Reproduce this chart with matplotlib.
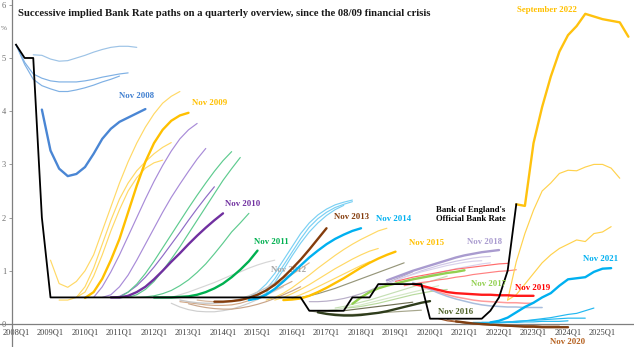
import matplotlib
matplotlib.use("Agg")
import matplotlib.pyplot as plt
import numpy as np

# ---------------------------------------------------------------- data
quarters = [f"{y}Q{q}" for y in range(2008, 2027) for q in range(1, 5)]
tick_labels = [f"{y}Q1" for y in range(2008, 2026)]

# Bank of England official Bank Rate, quarterly from 2008Q1
bank_rate = [5.25, 5.0, 5.0, 2.0,
             0.5, 0.5, 0.5, 0.5, 0.5, 0.5, 0.5, 0.5, 0.5, 0.5,
             0.5, 0.5, 0.5, 0.5, 0.5, 0.5, 0.5, 0.5, 0.5, 0.5,
             0.5, 0.5, 0.5, 0.5, 0.5, 0.5, 0.5, 0.5, 0.5, 0.5,
             0.25, 0.25, 0.25, 0.25, 0.25,
             0.5, 0.5, 0.5,
             0.75, 0.75, 0.75, 0.75, 0.75, 0.75,
             0.1, 0.1, 0.1, 0.1, 0.1, 0.1, 0.1,
             0.25, 0.5, 1.0, 2.25]

# Implied paths: (first quarter, quarterly values)
paths_2008 = [("2008Q1", [5.25, 4.92, 4.70, 4.62, 4.57, 4.55, 4.55, 4.55, 4.57, 4.60, 4.64, 4.67, 4.70, 4.72]),
              ("2008Q1", [5.25, 4.88, 4.60, 4.48, 4.42, 4.37, 4.37, 4.40, 4.44, 4.49, 4.55, 4.60, 4.66]),
              ("2008Q3", [5.06, 5.05, 4.98, 4.94, 4.95, 5.00, 5.05, 5.11, 5.16, 5.20, 5.22, 5.22, 5.20])]
nov_2008 = ("2008Q4", [4.03, 3.26, 2.92, 2.78, 2.82, 2.95, 3.20, 3.48, 3.67, 3.80, 3.88, 3.96, 4.04])

paths_2009 = [("2009Q1", [1.2, 0.76, 0.69, 0.8, 1.0, 1.3, 1.75, 2.2, 2.65, 3.05, 3.4, 3.7, 3.95, 4.15, 4.28, 4.37]),
              ("2009Q2", [0.45, 0.45, 0.5, 0.7, 1.05, 1.5, 1.95, 2.35, 2.65, 2.88, 3.05, 3.2, 3.32, 3.41]),
              ("2009Q4", [0.5, 0.6, 0.9, 1.3, 1.75, 2.15, 2.5, 2.75, 2.93, 3.03, 3.08])]
nov_2009 = ("2010Q1", [0.49, 0.6, 0.85, 1.2, 1.6, 2.1, 2.6, 3.05, 3.4, 3.65, 3.82, 3.92, 3.97])

paths_2010 = [("2010Q2", [0.5, 0.7, 0.98, 1.3, 1.65, 2.0, 2.35, 2.68, 2.98, 3.25, 3.48, 3.65, 3.77]),
              ("2010Q3", [0.5, 0.55, 0.7, 0.92, 1.2, 1.5, 1.8, 2.1, 2.38, 2.63, 2.87, 3.1, 3.3]),
              ("2010Q4", [0.5, 0.52, 0.6, 0.72, 0.88, 1.07, 1.28, 1.5, 1.72, 1.95, 2.17, 2.38, 2.58])]
nov_2010 = ("2010Q4", [0.5, 0.5, 0.53, 0.6, 0.7, 0.84, 1.0, 1.17, 1.33, 1.5, 1.66, 1.81, 1.95, 2.08])

paths_2011 = [("2011Q1", [0.5, 0.6, 0.75, 0.95, 1.18, 1.43, 1.68, 1.93, 2.18, 2.42, 2.65, 2.87, 3.07, 3.24]),
              ("2011Q2", [0.5, 0.55, 0.65, 0.8, 1.0, 1.22, 1.45, 1.7, 1.95, 2.2, 2.45, 2.7, 2.92, 3.13]),
              ("2011Q3", [0.5, 0.51, 0.53, 0.57, 0.63, 0.72, 0.83, 0.97, 1.13, 1.32, 1.52, 1.73, 1.9, 2.08])]
nov_2011 = ("2012Q1", [0.5, 0.5, 0.5, 0.51, 0.52, 0.55, 0.6, 0.67, 0.76, 0.88, 1.02, 1.18, 1.38])

paths_2012 = [("2012Q3", [0.5, 0.55, 0.6, 0.66, 0.72, 0.78, 0.85, 0.92, 0.98, 1.05, 1.11, 1.16, 1.2]),
              ("2012Q3", [0.39, 0.32, 0.27, 0.24, 0.23, 0.23, 0.25, 0.28, 0.33, 0.39, 0.46, 0.54, 0.62, 0.7])]
nov_2012 = ("2012Q4", [0.45, 0.42, 0.4, 0.39, 0.39, 0.4, 0.43, 0.47, 0.53, 0.6, 0.68, 0.77, 0.86, 0.95])

paths_2013 = [("2012Q4", [0.42, 0.4, 0.38, 0.36, 0.35, 0.35, 0.36, 0.39, 0.44, 0.5, 0.57, 0.64, 0.72, 0.8]),
              ("2013Q1", [0.38, 0.34, 0.31, 0.29, 0.28, 0.28, 0.3, 0.33, 0.37, 0.42, 0.48, 0.55, 0.62, 0.7]),
              ("2013Q2", [0.45, 0.43, 0.42, 0.42, 0.43, 0.46, 0.5, 0.56, 0.63, 0.72, 0.82, 0.93, 1.04, 1.15])]
nov_2013 = ("2013Q4", [0.42, 0.42, 0.43, 0.45, 0.49, 0.55, 0.63, 0.74, 0.88, 1.04, 1.21, 1.4, 1.6, 1.8])

paths_2014 = [("2014Q3", [0.45, 0.5, 0.6, 0.75, 0.95, 1.2, 1.45, 1.7, 1.9, 2.05, 2.16, 2.24, 2.29, 2.33]),
              ("2014Q4", [0.45, 0.52, 0.65, 0.85, 1.1, 1.35, 1.6, 1.82, 1.98, 2.1, 2.19, 2.25, 2.3]),
              ("2015Q1", [0.47, 0.58, 0.78, 1.02, 1.28, 1.52, 1.73, 1.9, 2.04, 2.15, 2.23])]
nov_2014 = ("2014Q4", [0.45, 0.48, 0.55, 0.66, 0.8, 0.95, 1.1, 1.25, 1.38, 1.5, 1.6, 1.68, 1.75, 1.8])

paths_2015 = [("2015Q2", [0.45, 0.5, 0.58, 0.68, 0.8, 0.92, 1.05, 1.17, 1.29, 1.4, 1.5, 1.59, 1.67, 1.75, 1.8]),
              ("2015Q3", [0.45, 0.5, 0.57, 0.65, 0.74, 0.84, 0.94, 1.04, 1.13, 1.22, 1.3, 1.37, 1.42]),
              ("2015Q4", [0.45, 0.49, 0.55, 0.62, 0.7, 0.78, 0.86, 0.94, 1.02, 1.1, 1.17])]
nov_2015 = ("2015Q4", [0.45, 0.46, 0.48, 0.53, 0.6, 0.68, 0.77, 0.86, 0.96, 1.06, 1.15, 1.23, 1.3, 1.36])

paths_2016 = [("2016Q1", [0.48, 0.5, 0.53, 0.57, 0.62, 0.67, 0.73, 0.79, 0.85, 0.91, 0.97, 1.03, 1.09, 1.15]),
              ("2016Q3", [0.25, 0.22, 0.2, 0.19, 0.18, 0.18, 0.19, 0.2, 0.21, 0.22, 0.23, 0.24, 0.25, 0.26]),
              ("2016Q4", [0.25, 0.24, 0.24, 0.25, 0.27, 0.29, 0.31, 0.33, 0.35, 0.37, 0.39, 0.41])]
nov_2016 = ("2016Q4", [0.22, 0.19, 0.17, 0.16, 0.16, 0.17, 0.19, 0.21, 0.24, 0.28, 0.32, 0.36, 0.4, 0.43])

paths_2017 = [("2017Q2", [0.3, 0.33, 0.37, 0.41, 0.45, 0.5, 0.55, 0.6, 0.65, 0.7, 0.75, 0.8, 0.85, 0.9]),
              ("2017Q1", [0.25, 0.27, 0.3, 0.33, 0.36, 0.4, 0.44, 0.48, 0.52, 0.56, 0.6, 0.64, 0.68, 0.72]),
              ("2017Q3", [0.3, 0.31, 0.33, 0.36, 0.39, 0.43, 0.47, 0.51, 0.55, 0.58, 0.61, 0.63, 0.65])]
nov_2017 = ("2017Q4", [0.38, 0.5, 0.6, 0.67, 0.72, 0.76, 0.8, 0.84, 0.87, 0.9, 0.93, 0.96, 0.98, 1.01])

paths_2018 = [("2016Q3", [0.42, 0.42, 0.43, 0.45, 0.48, 0.52, 0.57, 0.63, 0.7, 0.77, 0.84, 0.91, 0.98]),
              ("2018Q4", [0.75, 0.82, 0.88, 0.94, 1.0, 1.05, 1.1, 1.14, 1.18, 1.21, 1.24, 1.26, 1.27]),
              ("2018Q3", [0.7, 0.76, 0.82, 0.88, 0.93, 0.98, 1.02, 1.06, 1.1, 1.13, 1.16, 1.18, 1.19]),
              ("2018Q4", [0.72, 0.76, 0.8, 0.84, 0.88, 0.92, 0.96, 1.0, 1.04, 1.07, 1.1, 1.13, 1.15])]
nov_2018 = ("2018Q4", [0.82, 0.88, 0.94, 1.0, 1.05, 1.1, 1.15, 1.2, 1.25, 1.29, 1.32, 1.35, 1.37, 1.39])

paths_2019 = [("2019Q1", [0.8, 0.84, 0.88, 0.91, 0.94, 0.97, 1.0, 1.03, 1.05, 1.07, 1.09, 1.11, 1.13, 1.14]),
              ("2019Q2", [0.72, 0.75, 0.78, 0.8, 0.83, 0.85, 0.88, 0.9, 0.93, 0.95, 0.97, 0.99, 1.0, 1.02])]
pink_2019 = ("2019Q4", [0.7, 0.65, 0.6, 0.55, 0.51, 0.48, 0.45, 0.43, 0.42, 0.41, 0.4, 0.4, 0.39, 0.39])
steel_2019 = ("2019Q3", [0.78, 0.72, 0.65, 0.58, 0.52, 0.47, 0.43, 0.39, 0.36, 0.34, 0.33, 0.32, 0.32, 0.31, 0.31, 0.31])
nov_2019 = ("2019Q3", [0.75, 0.72, 0.68, 0.64, 0.6, 0.58, 0.57, 0.56, 0.55, 0.55, 0.54, 0.54, 0.53, 0.53, 0.53])

paths_2020 = [("2020Q2", [0.1, 0.06, 0.04, 0.02, 0.0, -0.01, -0.02, -0.03, -0.04, -0.04, -0.05, -0.05, -0.05, -0.05]),
              ("2020Q3", [0.08, 0.05, 0.03, 0.01, 0.0, -0.01, -0.02, -0.02, -0.03, -0.03, -0.03, -0.04, -0.04, -0.04])]
nov_2020 = ("2020Q4", [0.05, 0.03, 0.01, 0.0, -0.01, -0.02, -0.03, -0.04, -0.05, -0.05, -0.06, -0.06, -0.06, -0.06])

paths_2021 = [("2021Q3", [0.03, 0.03, 0.03, 0.04, 0.05, 0.06, 0.08, 0.1, 0.12, 0.15, 0.18, 0.2, 0.25, 0.3]),
              ("2021Q2", [0.03, 0.03, 0.03, 0.03, 0.04, 0.05, 0.06, 0.07, 0.08, 0.09, 0.1, 0.11, 0.11, 0.11]),
              ("2021Q1", [0.03, 0.02, 0.02, 0.02, 0.02, 0.03, 0.03, 0.04, 0.04, 0.05, 0.05, 0.05, 0.06])]
nov_2021 = ("2021Q4", [0.03, 0.06, 0.12, 0.22, 0.32, 0.4, 0.5, 0.58, 0.72, 0.84, 0.86, 0.88, 0.98, 1.04, 1.05])

paths_2022 = [("2022Q2", [0.45, 1.17, 1.7, 2.14, 2.5, 2.65, 2.83, 2.89, 2.88, 2.95, 3.0, 3.0, 2.93, 2.74]),
              ("2022Q2", [0.45, 0.55, 0.75, 0.95, 1.15, 1.3, 1.42, 1.5, 1.58, 1.55, 1.7, 1.73, 1.83])]
sep_2022 = ("2022Q3", [2.25, 2.22, 3.4, 4.08, 4.65, 5.12, 5.43, 5.6, 5.83, 5.78, 5.73, 5.7, 5.67, 5.4])

# ---------------------------------------------------------------- figure
SERIF = ["Liberation Serif", "DejaVu Serif"]
plt.rcParams["font.family"] = SERIF

fig = plt.figure(figsize=(6.34, 3.47), dpi=100)
ax = fig.add_axes([0, 0, 1, 1])
ax.set_xlim(-1.855, 71.65)
ax.set_ylim(-0.432, 6.09)


def draw(path, color, lw, z=2):
    start, values = path
    i0 = quarters.index(start)
    x = np.arange(i0, i0 + len(values))
    ax.plot(x, values, color=color, lw=lw, zorder=z, solid_capstyle="round",
            solid_joinstyle="round")


THIN = 0.85
THICK = 1.7

family_styles = [
    (paths_2008, ["#7EB0E4", "#7EB0E4", "#9DC3E6"]),
    (paths_2009, ["#FFD966"] * 3),
    (paths_2010, ["#A88BD8", "#A88BD8", "#8E6BC6"]),
    (paths_2011, ["#5ECB8F"] * 3),
    (paths_2012, ["#D6D6D6", "#CFCFCF"]),
    (paths_2013, ["#D2A887", "#C9A58A", "#D8B69A"]),
    (paths_2014, ["#7AD0F3"] * 3),
    (paths_2015, ["#FFD966"] * 3),
    (paths_2016, ["#96967A", "#A6A68C", "#707055"]),
    (paths_2017, ["#C5E0B4", "#D4E8C6", "#B8DA9E"]),
    (paths_2018, ["#B8AEC8", "#CFC6E6", "#D9D2EC", "#D9D2EC"]),
    (paths_2019, ["#FF6B6B", "#FF8080"]),
    (paths_2020, ["#A0562A", "#B06A3A"]),
    (paths_2021, ["#22B8F0", "#22B8F0", "#22B8F0"]),
    (paths_2022, ["#FFD24D", "#FFD24D"]),
]
for paths, colors in family_styles:
    for p, c in zip(paths, colors):
        draw(p, c, THIN)

draw(nov_2012, "#C8C8C8", 1.0)
draw(pink_2019, "#FF9C9C", 1.1)
draw(steel_2019, "#A9BEDD", 1.1)

draw(nov_2008, "#4A86D4", THICK, 3)
draw(nov_2009, "#FFC000", THICK, 3)
draw(nov_2010, "#7030A0", THICK, 3)
draw(nov_2011, "#00B050", THICK, 3)
draw(nov_2013, "#843C0C", THICK, 3)
draw(nov_2014, "#00B0F0", THICK, 3)
draw(nov_2015, "#FFC000", THICK, 3)
draw(nov_2016, "#2F3D1C", THICK, 3)
draw(nov_2017, "#92D050", THICK, 3)
draw(nov_2018, "#A99BCF", THICK, 3)
draw(nov_2019, "#FF1A1A", THICK, 3)
draw(nov_2020, "#7F3F12", THICK, 3)
draw(nov_2021, "#00B0F0", THICK, 3)
draw(sep_2022, "#FFC20E", THICK, 3)

ax.plot(np.arange(len(bank_rate)), bank_rate, color="black", lw=1.3, zorder=5)

# ---------------------------------------------------------------- axes
for side in ("top", "right"):
    ax.spines[side].set_visible(False)
ax.spines["left"].set_position(("data", -0.46))
ax.spines["bottom"].set_position(("data", 0))
for side in ("left", "bottom"):
    ax.spines[side].set_color("#7F7F7F")
    ax.spines[side].set_linewidth(0.9)

ax.set_yticks(range(0, 7))
ax.set_yticklabels([str(v) for v in range(0, 7)])
ax.tick_params(axis="y", length=2, width=0.6, color="#8C8C8C", pad=2.2,
               labelsize=6, labelcolor="#6E6E6E")
ax.set_xticks([quarters.index(q) for q in tick_labels])
ax.set_xticklabels(tick_labels)
ax.tick_params(axis="x", length=0, pad=3.2, labelsize=6, labelcolor="#404040")
ax.text(-1.39, 5.56, "%", fontsize=5.2, color="#6E6E6E", ha="center", va="center")

fig.text(18 / 634, 1 - 13 / 347,
         "Successive implied Bank Rate paths on a quarterly overview, since the 08/09 financial crisis",
         fontsize=7.7, fontweight="bold", color="#1A1A1A", ha="left", va="center")

labels = [
    ("Nov 2008", 14.0, 4.29, "#3F7FD0"),
    ("Nov 2009", 22.5, 4.15, "#FFC000"),
    ("Nov 2010", 26.3, 2.26, "#7030A0"),
    ("Nov 2011", 29.65, 1.54, "#00B050"),
    ("Nov 2013", 38.9, 2.01, "#843C0C"),
    ("Nov 2014", 43.75, 1.97, "#00B0F0"),
    ("Nov 2015", 47.6, 1.52, "#FFC000"),
    ("Nov 2018", 54.26, 1.54, "#A99BCF"),
    ("Nov 2017", 54.76, 0.75, "#92D050"),
    ("Nov 2019", 59.86, 0.67, "#FF0000"),
    ("Nov 2016", 50.98, 0.22, "#4F6228"),
    ("Nov 2021", 67.83, 1.22, "#00B0F0"),
    ("Nov 2020", 63.92, -0.33, "#B5601E"),
    ("September 2022", 61.53, 5.9, "#FFC000"),
]
for text, x, y, c in labels:
    ax.text(x, y, text, color=c, fontsize=6.3, fontweight="bold",
            ha="center", va="center", zorder=6)
ax.text(31.57, 1.02, "Nov 2012", color="#A6A6A6", fontsize=6.3,
        fontweight="bold", ha="center", va="center", zorder=2.5)
ax.text(52.7, 2.05, "Bank of England's\nOfficial Bank Rate", color="black",
        fontsize=6.3, fontweight="bold", ha="center", va="center",
        linespacing=1.15, zorder=6)

fig.savefig("out.png", dpi=100)
